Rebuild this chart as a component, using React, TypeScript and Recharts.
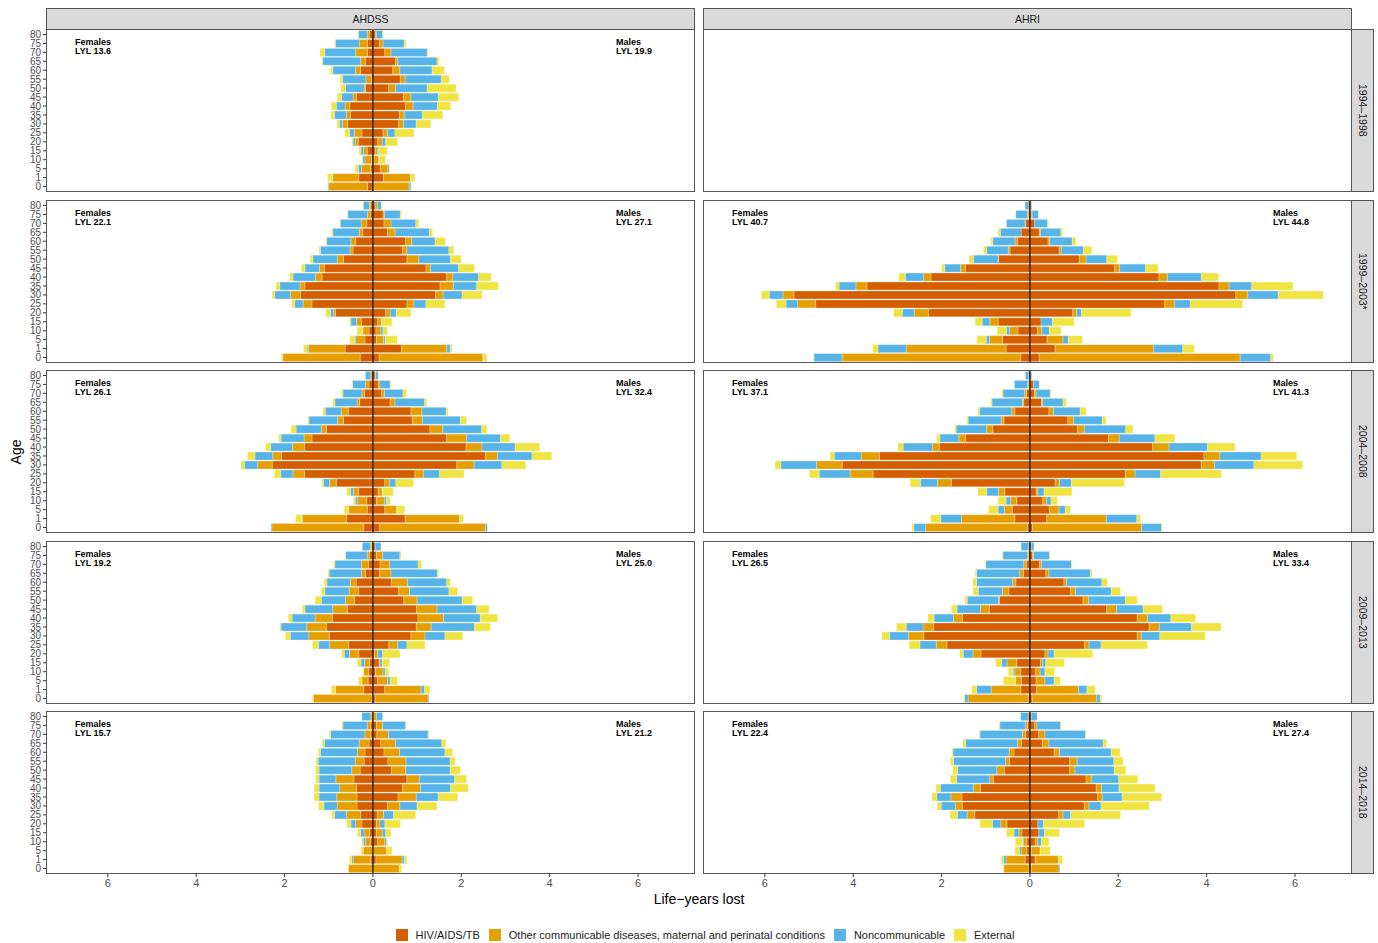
import React from 'react';
import { BarChart, Bar, XAxis, YAxis, ReferenceLine } from 'recharts';

// age groups, top to bottom
const ages = ['80', '75', '70', '65', '60', '55', '50', '45', '40', '35', '30', '25', '20', '15', '10', '5', '1', '0'];
const causes = [
  'HIV/AIDS/TB',
  'Other communicable diseases, maternal and perinatal conditions',
  'Noncommunicable',
  'External',
];
const causeColors = ['#D55E00', '#E69F00', '#56B4E9', '#F0E442'];
const sites = ['AHDSS', 'AHRI'];
const periods = ['1994–1998', '1999–2003*', '2004–2008', '2009–2013', '2014–2018'];
const xTicks = [-6, -4, -2, 0, 2, 4, 6];

// life-years lost per period (null = no data)
const ahdssLylF = [13.6, 22.1, 26.1, 19.2, 15.7];
const ahdssLylM = [19.9, 27.1, 32.4, 25.0, 21.2];
const ahriLylF = [null, 40.7, 37.1, 26.5, 22.4];
const ahriLylM = [null, 44.8, 41.3, 33.4, 27.4];

// each row: [HIV/AIDS/TB, other communicable, noncommunicable, external], ages 80 -> 0
const ahdss9498F = [
  [0.08, 0.05, 0.2, 0.01], [0.12, 0.19, 0.54, 0.02], [0.12, 0.27, 0.7, 0.11], [0.17, 0.11, 0.86, 0.02],
  [0.28, 0.11, 0.52, 0.05], [0.03, 0.13, 0.53, 0.05], [0.17, 0.03, 0.42, 0.11], [0.37, 0.08, 0.26, 0.1],
  [0.52, 0.11, 0.2, 0.11], [0.51, 0.09, 0.27, 0.08], [0.57, 0.12, 0.07, 0.06], [0.25, 0.17, 0.11, 0.11],
  [0.33, 0.07, 0.05, 0.03], [0.13, 0.08, 0.06, 0.05], [0.03, 0.15, 0.05, 0.02], [0.05, 0.21, 0.07, 0.07],
  [0.32, 0.59, 0.01, 0.11], [0.12, 0.88, 0.02, 0],
];
const ahdss9498M = [
  [0.06, 0.02, 0.14, 0.02], [0.15, 0.08, 0.48, 0.04], [0.27, 0.14, 0.82, 0.02], [0.51, 0.05, 0.89, 0.05],
  [0.45, 0.16, 0.73, 0.28], [0.62, 0.11, 0.82, 0.18], [0.36, 0.15, 0.72, 0.65], [0.69, 0.17, 0.62, 0.46],
  [0.74, 0.17, 0.55, 0.3], [0.6, 0.11, 0.41, 0.46], [0.58, 0.11, 0.29, 0.33], [0.23, 0.1, 0.17, 0.43],
  [0.11, 0.1, 0.08, 0.27], [0.05, 0.05, 0.03, 0.2], [0.02, 0.11, 0.01, 0.14], [0.17, 0.17, 0.03, 0.02],
  [0.24, 0.61, 0.01, 0.09], [0.02, 0.8, 0.04, 0.01],
];
const ahdss9903F = [
  [0.05, 0.03, 0.14, 0.01], [0.06, 0.06, 0.45, 0.01], [0.14, 0.12, 0.48, 0.02], [0.23, 0.08, 0.6, 0.03],
  [0.39, 0.11, 0.55, 0.02], [0.45, 0.07, 0.67, 0.03], [0.67, 0.14, 0.55, 0.06], [1.1, 0.11, 0.33, 0.08],
  [1.15, 0.15, 0.51, 0.08], [1.54, 0.11, 0.46, 0.08], [1.64, 0.23, 0.35, 0.06], [1.38, 0.2, 0.19, 0.07],
  [0.85, 0.04, 0.07, 0.11], [0.26, 0.11, 0.13, 0.03], [0.09, 0.14, 0, 0.13], [0.18, 0.21, 0.03, 0.1],
  [0.63, 0.83, 0.03, 0.08], [0.29, 1.75, 0.01, 0.03],
];
const ahdss9903M = [
  [0.05, 0.05, 0.09, 0.01], [0.23, 0.03, 0.36, 0.03], [0.25, 0.16, 0.56, 0.07], [0.33, 0.17, 0.78, 0.07],
  [0.74, 0.14, 0.53, 0.23], [0.67, 0.1, 0.95, 0.11], [0.77, 0.27, 0.72, 0.24], [1.2, 0.1, 0.64, 0.36],
  [1.67, 0.14, 0.58, 0.29], [1.52, 0.3, 0.53, 0.49], [1.42, 0.17, 0.43, 0.45], [0.77, 0.16, 0.27, 0.43],
  [0.29, 0.1, 0.14, 0.33], [0.11, 0.08, 0.01, 0.23], [0.07, 0.11, 0.05, 0.1], [0.08, 0.16, 0.04, 0.27],
  [0.65, 1.02, 0.08, 0.04], [0.14, 2.35, 0.01, 0.08],
];
const ahdss0408F = [
  [0.04, 0.02, 0.11, 0], [0.09, 0.08, 0.29, 0.02], [0.19, 0.06, 0.43, 0.03], [0.3, 0.06, 0.5, 0.05],
  [0.56, 0.16, 0.36, 0.05], [0.67, 0.13, 0.65, 0.02], [1.05, 0.12, 0.57, 0.11], [1.38, 0.18, 0.52, 0.05],
  [1.55, 0.27, 0.5, 0.11], [2.07, 0.2, 0.4, 0.17], [2.28, 0.33, 0.3, 0.08], [1.55, 0.26, 0.28, 0.14],
  [0.83, 0.15, 0.14, 0.04], [0.33, 0.11, 0.07, 0.08], [0.14, 0.21, 0.05, 0.04], [0.13, 0.42, 0.01, 0.09],
  [0.6, 1.0, 0.01, 0.14], [0.21, 2.08, 0.02, 0],
];
const ahdss0408M = [
  [0.05, 0.01, 0.06, 0], [0.12, 0.04, 0.23, 0.02], [0.2, 0.06, 0.42, 0.08], [0.39, 0.11, 0.67, 0.05],
  [0.86, 0.25, 0.55, 0.04], [0.89, 0.23, 0.86, 0.14], [1.29, 0.29, 0.88, 0.12], [1.67, 0.45, 0.77, 0.21],
  [2.11, 0.36, 0.75, 0.55], [2.55, 0.27, 0.78, 0.45], [1.9, 0.39, 0.63, 0.54], [0.95, 0.2, 0.36, 0.55],
  [0.27, 0.11, 0.14, 0.4], [0.12, 0.09, 0.01, 0.24], [0.08, 0.18, 0.05, 0.08], [0.27, 0.27, 0.01, 0.17],
  [0.73, 1.23, 0.01, 0.08], [0.15, 2.4, 0.04, 0],
];
const ahdss0913F = [
  [0.03, 0.03, 0.18, 0], [0.08, 0.05, 0.49, 0.02], [0.1, 0.16, 0.6, 0.03], [0.17, 0.09, 0.73, 0.03],
  [0.38, 0.13, 0.53, 0.06], [0.33, 0.21, 0.55, 0.08], [0.42, 0.2, 0.55, 0.14], [0.58, 0.33, 0.63, 0.06],
  [0.92, 0.39, 0.52, 0.08], [1.05, 0.45, 0.58, 0.03], [0.99, 0.46, 0.42, 0.11], [0.55, 0.43, 0.25, 0.14],
  [0.32, 0.21, 0.12, 0.06], [0.08, 0.11, 0.08, 0.08], [0.1, 0.11, 0, 0.02], [0.11, 0.14, 0, 0.08],
  [0.21, 0.64, 0, 0.09], [0.02, 1.33, 0, 0.02],
];
const ahdss0913M = [
  [0.05, 0, 0.13, 0], [0.08, 0.14, 0.39, 0.03], [0.16, 0.22, 0.64, 0.08], [0.15, 0.26, 1.05, 0.03],
  [0.42, 0.36, 0.89, 0.08], [0.58, 0.25, 0.89, 0.2], [0.7, 0.3, 1.02, 0.24], [0.99, 0.46, 0.9, 0.28],
  [1.02, 0.58, 0.83, 0.39], [0.98, 0.34, 0.98, 0.36], [0.86, 0.32, 0.45, 0.4], [0.36, 0.2, 0.21, 0.41],
  [0.03, 0.08, 0.11, 0.39], [0.14, 0.02, 0.05, 0.17], [0.06, 0.17, 0.05, 0.08], [0.11, 0.22, 0.06, 0.17],
  [0.27, 0.82, 0.08, 0.12], [0.05, 1.2, 0.02, 0],
];
const ahdss1418F = [
  [0.02, 0.03, 0.2, 0], [0.05, 0.08, 0.55, 0.03], [0.05, 0.13, 0.78, 0.03], [0.09, 0.22, 0.79, 0.05],
  [0.18, 0.17, 0.84, 0.05], [0.2, 0.2, 0.84, 0.05], [0.29, 0.19, 0.74, 0.08], [0.43, 0.41, 0.38, 0.08],
  [0.37, 0.38, 0.47, 0.11], [0.36, 0.46, 0.4, 0.11], [0.36, 0.45, 0.3, 0.12], [0.28, 0.32, 0.27, 0.07],
  [0.25, 0.14, 0.11, 0.09], [0.08, 0.12, 0.08, 0.07], [0.06, 0.11, 0.05, 0.03], [0, 0.22, 0, 0.05],
  [0.05, 0.4, 0.03, 0.05], [0, 0.55, 0, 0.02],
];
const ahdss1418M = [
  [0.02, 0.06, 0.14, 0], [0.08, 0.14, 0.52, 0.02], [0.09, 0.26, 0.9, 0.02], [0.18, 0.33, 1.05, 0.09],
  [0.25, 0.35, 1.03, 0.17], [0.34, 0.41, 1.0, 0.11], [0.42, 0.32, 1.01, 0.23], [0.77, 0.28, 0.8, 0.27],
  [0.67, 0.41, 0.68, 0.4], [0.57, 0.41, 0.5, 0.44], [0.33, 0.28, 0.39, 0.45], [0.1, 0.14, 0.23, 0.5],
  [0.08, 0.08, 0.11, 0.35], [0.08, 0.13, 0.08, 0.12], [0.11, 0.16, 0.04, 0.02], [0, 0.31, 0, 0.12],
  [0.07, 0.59, 0.05, 0.06], [0, 0.6, 0, 0.05],
];
const ahri9903F = [
  [0.04, 0, 0.07, 0], [0.03, 0.03, 0.26, 0], [0.1, 0.01, 0.42, 0], [0.2, 0, 0.47, 0.05],
  [0.28, 0.06, 0.5, 0.04], [0.45, 0.04, 0.49, 0.07], [0.71, 0.01, 0.56, 0.1], [1.46, 0.11, 0.36, 0.07],
  [2.24, 0.17, 0.41, 0.15], [3.69, 0.25, 0.38, 0.08], [5.34, 0.25, 0.31, 0.18], [4.85, 0.41, 0.26, 0.22],
  [2.3, 0.32, 0.27, 0.2], [0.72, 0.19, 0.17, 0.16], [0.27, 0.19, 0.07, 0.21], [0.62, 0.3, 0.07, 0.21],
  [0.54, 2.26, 0.64, 0.12], [0.21, 4.04, 0.64, 0.01],
];
const ahri9903M = [
  [0.02, 0, 0.02, 0], [0.03, 0.02, 0.14, 0], [0.11, 0, 0.29, 0.02], [0.21, 0.03, 0.46, 0.04],
  [0.41, 0.04, 0.51, 0.08], [0.66, 0.05, 0.5, 0.19], [1.12, 0.15, 0.47, 0.24], [1.92, 0.11, 0.59, 0.28],
  [2.92, 0.19, 0.77, 0.39], [4.28, 0.23, 0.51, 0.93], [4.66, 0.27, 0.69, 1.02], [3.05, 0.22, 0.36, 1.18],
  [0.97, 0.09, 0.11, 1.12], [0.25, 0, 0.26, 0.49], [0.17, 0.1, 0.17, 0.26], [0.39, 0.36, 0.12, 0.32],
  [0.57, 2.23, 0.66, 0.26], [0.21, 4.55, 0.69, 0.06],
];
const ahri0408F = [
  [0.03, 0, 0.07, 0], [0.03, 0.02, 0.3, 0], [0.08, 0.04, 0.49, 0.03], [0.14, 0.03, 0.69, 0.03],
  [0.34, 0.07, 0.73, 0.04], [0.59, 0.06, 0.75, 0.03], [0.84, 0.14, 0.69, 0.03], [1.46, 0.15, 0.43, 0.07],
  [2.05, 0.16, 0.66, 0.12], [3.41, 0.41, 0.61, 0.09], [4.25, 0.58, 0.81, 0.13], [3.55, 0.52, 0.7, 0.22],
  [1.78, 0.31, 0.39, 0.23], [0.57, 0.14, 0.27, 0.2], [0.3, 0.14, 0.1, 0.18], [0.4, 0.18, 0.14, 0.22],
  [0.34, 1.21, 0.47, 0.23], [0.06, 2.3, 0.27, 0.04],
];
const ahri0408M = [
  [0.02, 0, 0.02, 0], [0.08, 0, 0.13, 0], [0.1, 0.04, 0.32, 0.02], [0.26, 0.03, 0.46, 0.08],
  [0.43, 0.1, 0.61, 0.13], [0.86, 0.13, 0.65, 0.08], [1.08, 0.15, 0.94, 0.16], [1.78, 0.24, 0.81, 0.45],
  [2.78, 0.37, 0.87, 0.62], [3.94, 0.36, 0.93, 0.81], [3.88, 0.3, 0.89, 1.1], [2.16, 0.22, 0.58, 1.37],
  [0.57, 0.1, 0.27, 1.2], [0.14, 0.04, 0.14, 0.63], [0.29, 0.09, 0.1, 0.14], [0.44, 0.22, 0.14, 0.12],
  [0.38, 1.35, 0.69, 0.08], [0.06, 2.47, 0.45, 0.02],
];
const ahri0913F = [
  [0.03, 0, 0.17, 0], [0.03, 0.03, 0.55, 0.02], [0.08, 0.06, 0.86, 0.02], [0.15, 0.08, 0.98, 0.03],
  [0.32, 0.07, 0.82, 0.08], [0.48, 0.14, 0.55, 0.12], [0.69, 0.02, 0.71, 0.05], [0.92, 0.2, 0.53, 0.13],
  [1.53, 0.2, 0.44, 0.14], [2.18, 0.24, 0.38, 0.22], [2.4, 0.35, 0.43, 0.17], [1.88, 0.24, 0.37, 0.24],
  [1.11, 0.18, 0.22, 0.08], [0.3, 0.22, 0.12, 0.14], [0.21, 0.13, 0.04, 0.11], [0.19, 0.14, 0, 0.27],
  [0.21, 0.67, 0.33, 0.11], [0.04, 1.36, 0.08, 0.02],
];
const ahri0913M = [
  [0.03, 0, 0.06, 0], [0.06, 0.02, 0.36, 0.02], [0.22, 0.04, 0.68, 0.02], [0.36, 0.07, 0.94, 0.04],
  [0.77, 0.06, 0.8, 0.12], [0.92, 0.11, 0.81, 0.21], [1.2, 0.13, 0.83, 0.27], [1.74, 0.22, 0.6, 0.44],
  [2.43, 0.23, 0.53, 0.56], [2.7, 0.23, 0.73, 0.67], [2.43, 0.09, 0.42, 1.03], [1.24, 0.1, 0.27, 1.05],
  [0.34, 0.07, 0.14, 0.87], [0.24, 0.05, 0.07, 0.42], [0.13, 0.1, 0.11, 0.22], [0.14, 0.2, 0.21, 0.14],
  [0.15, 0.95, 0.19, 0.19], [0.05, 1.46, 0.08, 0.04],
];
const ahri1418F = [
  [0.04, 0, 0.17, 0], [0.05, 0.05, 0.58, 0.02], [0.1, 0.07, 0.96, 0.02], [0.19, 0.09, 1.18, 0.06],
  [0.36, 0.11, 1.27, 0.03], [0.46, 0.09, 1.18, 0.07], [0.58, 0.17, 0.89, 0.11], [0.83, 0.08, 0.75, 0.14],
  [1.12, 0.16, 0.75, 0.1], [1.54, 0.25, 0.32, 0.11], [1.53, 0.16, 0.32, 0.09], [1.25, 0.17, 0.22, 0.17],
  [0.52, 0.14, 0.19, 0.28], [0.18, 0.07, 0.11, 0.17], [0.07, 0.08, 0.02, 0.16], [0.07, 0.13, 0.04, 0.1],
  [0.11, 0.43, 0.06, 0.05], [0.02, 0.57, 0, 0.02],
];
const ahri1418M = [
  [0.03, 0, 0.13, 0], [0.11, 0.05, 0.53, 0.02], [0.2, 0.14, 0.92, 0.02], [0.28, 0.15, 1.23, 0.08],
  [0.55, 0.12, 1.17, 0.2], [0.9, 0.17, 0.83, 0.21], [0.9, 0.12, 0.89, 0.26], [1.27, 0.13, 0.61, 0.43],
  [1.5, 0.12, 0.4, 0.81], [1.53, 0.11, 0.45, 0.89], [1.23, 0.11, 0.27, 1.09], [0.65, 0.1, 0.17, 1.13],
  [0.18, 0, 0.13, 0.93], [0.2, 0, 0.13, 0.34], [0.12, 0.06, 0.08, 0.17], [0.03, 0.2, 0, 0.23],
  [0.12, 0.52, 0.01, 0.09], [0.03, 0.63, 0.02, 0],
];

const ahdssData = [[ahdss9498F, ahdss9498M], [ahdss9903F, ahdss9903M], [ahdss0408F, ahdss0408M], [ahdss0913F, ahdss0913M], [ahdss1418F, ahdss1418M]];
const ahriData = [null, [ahri9903F, ahri9903M], [ahri0408F, ahri0408M], [ahri0913F, ahri0913M], [ahri1418F, ahri1418M]];

const PANEL_W = 649;
const PANEL_H = 163;
const colLeft = [46, 703];
const rowTop = [29, 200, 370, 541, 711];
const Y_AXIS_W = 30;
const X_AXIS_H = 22;
const fKeys = ['f0', 'f1', 'f2', 'f3'];
const mKeys = ['m0', 'm1', 'm2', 'm3'];

function toRows(F: number[][], M: number[][]) {
  return ages.map((age, i) => {
    const row: any = { age };
    for (let k = 0; k < 4; k++) {
      row[fKeys[k]] = -F[i][k];
      row[mKeys[k]] = M[i][k];
    }
    return row;
  });
}

const border = '1px solid #555';

function Panel({ col, row, pair, lylF, lylM }: any) {
  const left = colLeft[col];
  const top = rowTop[row];
  const showY = col === 0;
  const showX = row === 4;
  const yw = showY ? Y_AXIS_W : 0;
  const xh = showX ? X_AXIS_H : 0;
  const labelStyle: React.CSSProperties = {
    position: 'absolute', fontSize: 9, fontWeight: 'bold', lineHeight: '9px', color: '#000', whiteSpace: 'pre',
  };
  return (
    <>
      <div style={{ position: 'absolute', left: left - yw, top }}>
        {pair && (
          <BarChart
            width={PANEL_W + yw}
            height={PANEL_H + xh}
            data={toRows(pair[0], pair[1])}
            layout="vertical"
            stackOffset="sign"
            barCategoryGap="6%"
            margin={{ top: 0, right: 0, bottom: 0, left: 0 }}
          >
            <XAxis
              type="number"
              domain={[-7.4, 7.29]}
              allowDataOverflow
              ticks={xTicks}
              interval={0}
              tickFormatter={(v) => String(Math.abs(v))}
              hide={!showX}
              height={X_AXIS_H}
              axisLine={false}
              tickLine={{ stroke: '#333' }}
              tickSize={3}
              tickMargin={2}
              tick={{ fill: '#4d4d4d', fontSize: 11 }}
            />
            <YAxis
              type="category"
              dataKey="age"
              hide={!showY}
              width={Y_AXIS_W}
              interval={0}
              padding={{ top: 1, bottom: 1 }}
              axisLine={false}
              tickLine={{ stroke: '#333' }}
              tickSize={3}
              tickMargin={2}
              tick={{ fill: '#4d4d4d', fontSize: 10 }}
            />
            {fKeys.map((k, i) => (
              <Bar key={k} dataKey={k} stackId="a" fill={causeColors[i]} stroke="#fff" strokeOpacity={0.5} strokeWidth={0.5} isAnimationActive={false} />
            ))}
            {mKeys.map((k, i) => (
              <Bar key={k} dataKey={k} stackId="a" fill={causeColors[i]} stroke="#fff" strokeOpacity={0.5} strokeWidth={0.5} isAnimationActive={false} />
            ))}
            <ReferenceLine x={0} stroke="#000" strokeWidth={1.2} />
          </BarChart>
        )}
      </div>
      <div style={{ position: 'absolute', left, top, width: PANEL_W, height: PANEL_H, border, boxSizing: 'border-box', pointerEvents: 'none' }} />
      {lylF != null && (
        <div style={{ ...labelStyle, left: left + 29, top: top + 9 }}>{`Females\nLYL ${lylF.toFixed(1)}`}</div>
      )}
      {lylM != null && (
        <div style={{ ...labelStyle, left: left + 570, top: top + 9 }}>{`Males\nLYL ${lylM.toFixed(1)}`}</div>
      )}
    </>
  );
}

export default function App() {
  const stripStyle: React.CSSProperties = {
    position: 'absolute', background: '#D9D9D9', border, boxSizing: 'border-box',
    display: 'flex', alignItems: 'center', justifyContent: 'center', fontSize: 10.5, color: '#1a1a1a',
  };
  return (
    <div style={{ position: 'absolute', left: 0, top: 0, width: 1378, height: 943, background: '#fff', fontFamily: '"Liberation Sans", Arial, sans-serif', overflow: 'hidden' }}>
      {sites.map((s, c) => (
        <div key={s} style={{ ...stripStyle, left: colLeft[c], top: 8, width: PANEL_W, height: 22 }}>{s}</div>
      ))}
      {periods.map((p, r) => (
        <div key={p} style={{ ...stripStyle, left: 1351, top: rowTop[r], width: 23, height: PANEL_H }}>
          <span style={{ writingMode: 'vertical-rl' }}>{p}</span>
        </div>
      ))}
      {periods.map((p, r) => (
        <React.Fragment key={p}>
          <Panel col={0} row={r} pair={ahdssData[r]} lylF={ahdssLylF[r]} lylM={ahdssLylM[r]} />
          <Panel col={1} row={r} pair={ahriData[r]} lylF={ahriLylF[r]} lylM={ahriLylM[r]} />
        </React.Fragment>
      ))}
      <div style={{ position: 'absolute', left: 6, top: 442, width: 20, height: 20, display: 'flex', alignItems: 'center', justifyContent: 'center' }}>
        <span style={{ transform: 'rotate(-90deg)', fontSize: 14, color: '#000', whiteSpace: 'nowrap' }}>Age</span>
      </div>
      <div style={{ position: 'absolute', left: 46, top: 891, width: 1306, textAlign: 'center', fontSize: 14, color: '#000' }}>
        Life−years lost
      </div>
      <div style={{ position: 'absolute', left: 52, top: 929, width: 1306, display: 'flex', justifyContent: 'center', alignItems: 'center', fontSize: 11, color: '#1a1a1a' }}>
        {causes.map((c, i) => (
          <div key={c} style={{ display: 'flex', alignItems: 'center', marginRight: i < causes.length - 1 ? 9 : 0 }}>
            <div style={{ width: 12, height: 12, background: causeColors[i], marginRight: 8 }} />
            <span>{c}</span>
          </div>
        ))}
      </div>
    </div>
  );
}
